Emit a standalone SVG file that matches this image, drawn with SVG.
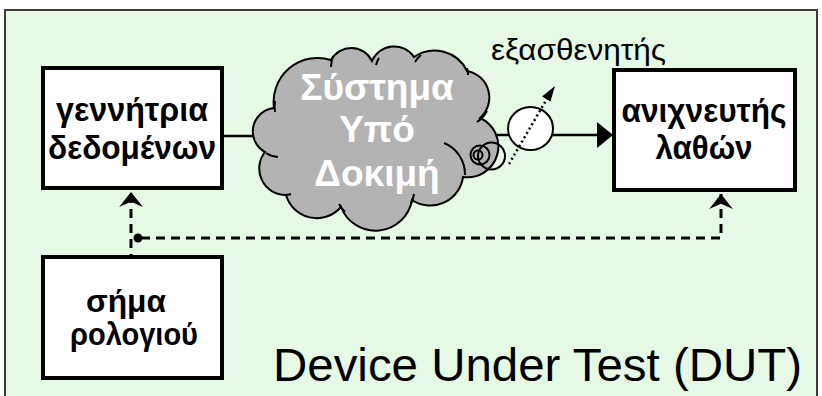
<svg xmlns="http://www.w3.org/2000/svg" width="822" height="396" viewBox="0 0 822 396">
<defs>
<style>
.box{fill:#ffffff;stroke:#000000;stroke-width:4}
.bt{font-family:"Liberation Sans",Arial,sans-serif;font-weight:bold;font-size:33px;fill:#000000;text-anchor:middle}
.ct{font-family:"Liberation Sans",Arial,sans-serif;font-weight:bold;font-size:37px;fill:#ffffff;text-anchor:middle}
.ln{fill:none;stroke:#000000;stroke-width:2.5}
.dash{fill:none;stroke:#000000;stroke-width:3;stroke-dasharray:9 6}
.thin{fill:none;stroke:#000000;stroke-width:2}
</style>
<marker id="ah" markerWidth="24" markerHeight="28" viewBox="-16 -13 18 26" refX="0" refY="0" orient="auto" markerUnits="userSpaceOnUse">
<path d="M0,0 L-14,-11 L-9,0 L-14,11 Z" fill="#000000"/>
</marker>
</defs>
<rect x="0" y="0" width="822" height="396" fill="#ffffff"/>
<rect id="frame" x="5" y="10" width="812" height="392" fill="#e6f9e4" stroke="#3a3a3a" stroke-width="2"/>
<g id="connectors">
<path class="ln" d="M224,136 H253"/>
<path class="ln" d="M494,135 H509"/>
<path class="ln" d="M552,135 H598"/>
<path d="M597,122 L613,135 L597,148 Z" fill="#000000"/>
<path class="dash" d="M131,263 V192" marker-end="url(#ah)"/>
<circle cx="138" cy="238" r="4.5" fill="#000000"/>
<path class="dash" d="M141,238 H721 V194" marker-end="url(#ah)"/>
</g>
<g id="cloud">
<path d="M265,152 A23.5,23.5 0 0 1 274,108 A44,44 0 0 1 331,60 A23,23 0 0 1 372,61 A24,24 0 0 1 414,57 A36,36 0 0 1 467,71 A27,27 0 0 1 480,118 A31,31 0 0 1 463,177 A33,33 0 0 1 412,200 A37,37 0 0 1 341,207 A32,32 0 0 1 286,195 A26.5,26.5 0 0 1 265,152 Z" fill="#b3b3b3" stroke="#000000" stroke-width="2"/>
<path class="thin" d="M278,157 A25,25 0 0 1 266,153 M291,194 A25,25 0 0 1 285,195 M345,212 A38,39 0 0 1 339,204 M414,194 A38,39 0 0 1 411,204 M444,143 A32.5,33.7 0 0 1 465,175 M487,111 A30,31 0 0 1 477,122 M467,68 A27,28 0 0 1 468,75 M415,62 A27,28 0 0 1 421,55 M376,65 A24.5,25.5 0 0 1 379,58 M331,67 A38,39 0 0 1 333,56 M275,112 A38,39 0 0 1 275,101"/>
<text class="ct" x="377" y="100">Σύστημα</text>
<text class="ct" x="377" y="142">Υπό</text>
<text class="ct" x="377" y="186">Δοκιμή</text>
</g>
<g id="attenuator">
<circle class="thin" cx="491.5" cy="156" r="13.5"/>
<circle class="thin" cx="480" cy="155" r="9.5"/>
<circle class="thin" cx="478" cy="155" r="4.5"/>
<ellipse cx="530.5" cy="128.5" rx="22.5" ry="21.5" fill="#ffffff" stroke="#000000" stroke-width="2"/>
<path d="M509,164 L548,97" fill="none" stroke="#000000" stroke-width="2.5" stroke-dasharray="2 3"/>
<path d="M555,86 L550.5,101.5 L542,96.5 Z" fill="#000000"/>
<text x="491" y="60" font-family="'Liberation Sans',Arial,sans-serif" font-size="29" textLength="175" lengthAdjust="spacingAndGlyphs" fill="#000000">εξασθενητής</text>
</g>
<g id="gen">
<rect class="box" x="43" y="68" width="179" height="120"/>
<text class="bt" x="132" y="121" textLength="152" lengthAdjust="spacingAndGlyphs">γεννήτρια</text>
<text class="bt" x="132" y="159" textLength="168" lengthAdjust="spacingAndGlyphs">δεδομένων</text>
</g>
<g id="det">
<rect class="box" x="614" y="70" width="181" height="120"/>
<text class="bt" x="704" y="122" textLength="165" lengthAdjust="spacingAndGlyphs">ανιχνευτής</text>
<text class="bt" x="704" y="159" textLength="97" lengthAdjust="spacingAndGlyphs">λαθών</text>
</g>
<g id="clock">
<rect class="box" x="43" y="257" width="179" height="121"/>
<text class="bt" x="126" y="312" style="font-size:31px" textLength="80" lengthAdjust="spacingAndGlyphs">σήμα</text>
<text class="bt" x="134" y="345" style="font-size:31px" textLength="128" lengthAdjust="spacingAndGlyphs">ρολογιού</text>
</g>
<text id="title" x="273" y="381" font-family="'Liberation Sans',Arial,sans-serif" font-size="46" textLength="529" lengthAdjust="spacingAndGlyphs" fill="#000000">Device Under Test (DUT)</text>
</svg>
